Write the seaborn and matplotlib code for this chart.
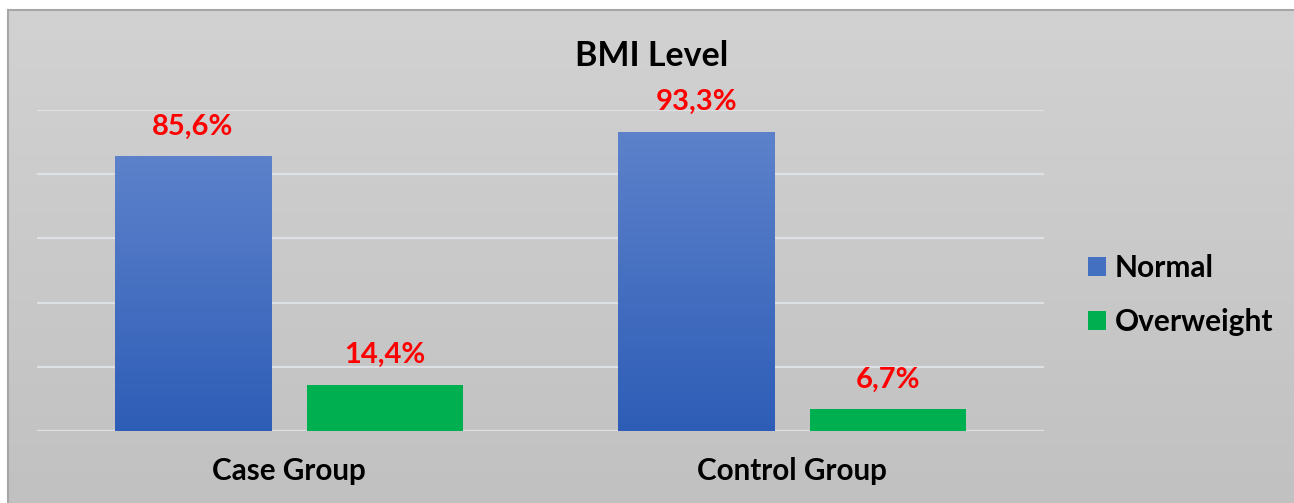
import numpy as np
import pandas as pd
import matplotlib
matplotlib.use("Agg")
import matplotlib.pyplot as plt
from matplotlib.colors import LinearSegmentedColormap
from matplotlib.patches import Patch
import seaborn as sns

# ---- data ----
groups = ["Case Group", "Control Group"]
series = ["Normal", "Overweight"]
normal = [85.6, 93.3]
overweight = [14.4, 6.7]
title = "BMI Level"

df = pd.DataFrame({
    "group": groups * 2,
    "bmi": [series[0]] * len(groups) + [series[1]] * len(groups),
    "value": normal + overweight,
})

plt.rcParams['font.family'] = ['Lato', 'DejaVu Sans']
plt.rcParams['font.weight'] = 'bold'

W, H = 1294, 503
fig = plt.figure(figsize=(W / 100, H / 100), dpi=100)
fig.patch.set_facecolor("white")

# background panel with vertical gradient
bg = fig.add_axes([8 / W, 0, 1 - 8 / W, (H - 10) / H])
bg.set_zorder(-1)
grad = np.linspace(0, 1, 256).reshape(-1, 1)
bg_cmap = LinearSegmentedColormap.from_list("bg", ["#c1c1c1", "#d2d2d2"])
bg.imshow(grad, aspect="auto", cmap=bg_cmap, origin="lower", extent=[0, 1, 0, 1])
bg.set_xlim(0, 1)
bg.set_ylim(0, 1)
bg.set_xticks([])
bg.set_yticks([])
for s in ["right", "bottom"]:
    bg.spines[s].set_visible(False)
for s in ["left", "top"]:
    bg.spines[s].set_color("#a6a6a6")
    bg.spines[s].set_linewidth(1.5)

# main axes
ax = fig.add_axes([37 / W, (H - 431) / H, (1044 - 37) / W, (431 - 110) / H])
ax.patch.set_alpha(0)

palette = {"Normal": "#4470c2", "Overweight": "#00b050"}
sns.barplot(data=df, x="group", y="value", hue="bmi", hue_order=series,
            order=groups, palette=palette, width=0.762, gap=0.186,
            saturation=1, ax=ax, legend=False, errorbar=None)

# gradient on the Normal bars
blue_cmap = LinearSegmentedColormap.from_list("blue", ["#2e5db7", "#5d82cb"])
for p in ax.containers[0].patches:
    bb = p.get_bbox()
    im = ax.imshow(grad, aspect="auto", cmap=blue_cmap, origin="lower",
                   extent=[bb.x0, bb.x1, bb.y0, bb.y1], zorder=p.get_zorder() + 0.1)
    im.set_clip_path(p)

ax.set_xlim(-0.5, 1.5)
ax.set_ylim(0, 100)
ax.set_yticks([0, 20, 40, 60, 80, 100])
ax.set_yticklabels([])
ax.yaxis.grid(True, color="#dde0e5", linewidth=1.6)
ax.xaxis.grid(False)
ax.set_axisbelow(True)
ax.tick_params(axis="both", length=0)
ax.tick_params(axis="x", pad=19, labelsize=21.3)
for lab in ax.get_xticklabels():
    lab.set_fontweight("bold")
for s in ax.spines.values():
    s.set_visible(False)
ax.set_xlabel("")
ax.set_ylabel("")

for cont in ax.containers:
    labels = [f"{v:.1f}".replace(".", ",") + "%" for v in cont.datavalues]
    ax.bar_label(cont, labels=labels, padding=12, color="#ff0000",
                 fontsize=21, fontweight="bold")

fig.text(652 / W, 1 - 66 / H, title, ha="center", va="baseline",
         fontsize=24.5, fontweight="bold", color="black")

handles = [Patch(facecolor=palette[s], edgecolor="none") for s in series]
fig.legend(handles, series, loc="center left",
           bbox_to_anchor=(1061 / W, 1 - 295 / H), frameon=False,
           handlelength=0.6, handleheight=0.6,
           handletextpad=0.3, labelspacing=0.9,
           prop={"weight": "bold", "size": 21.5})

fig.savefig("out.png", dpi=100)
